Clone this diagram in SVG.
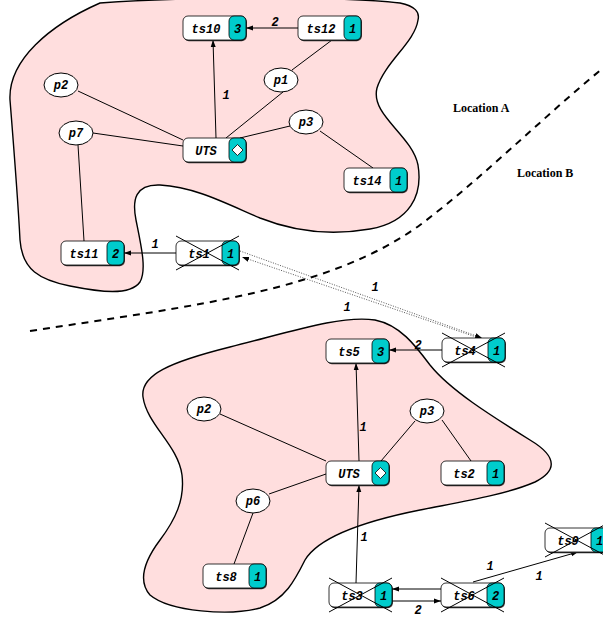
<svg xmlns="http://www.w3.org/2000/svg" xmlns:xlink="http://www.w3.org/1999/xlink" width="603" height="621" viewBox="0 0 603 621">
  <style>
    .blob { fill: #ffdede; stroke: #000; stroke-width: 1.4; }
    .divider { fill: none; stroke: #000; stroke-width: 2; stroke-dasharray: 7 6; }
    .edge { fill: none; stroke: #000; stroke-width: 1; }
    .arrow { fill: none; stroke: #000; stroke-width: 1; marker-end: url(#arr); }
    .dotted { fill: none; stroke: #444; stroke-width: 0.9; stroke-dasharray: 1 1.5; marker-end: url(#arr); }
    .proc { fill: #fff; stroke: #000; stroke-width: 1; }
    .cross line { stroke: #000; stroke-width: 1; }
    .mono { font-family: "Liberation Mono", "DejaVu Sans Mono", monospace; font-style: italic; font-weight: bold; font-size: 12px; text-anchor: middle; fill: #000; }
    .loc { font-family: "Liberation Serif", "Times New Roman", serif; font-weight: bold; font-size: 12px; fill: #000; }
  </style>
  <defs>
    <marker id="arr" markerWidth="7" markerHeight="6" refX="7" refY="3" orient="auto" markerUnits="userSpaceOnUse">
      <path d="M0,0.5 L7,3 L0,5.5 z" fill="#000"/>
    </marker>
    <!-- time-slot box: white body with cyan tab on the right -->
    <g id="box">
      <rect x="0.8" y="1.2" width="63" height="24" rx="5" fill="#333"/>
      <rect width="63" height="24" rx="5" fill="#fff" stroke="#000" stroke-width="0.8"/>
      <rect x="46" width="17" height="24" rx="5" fill="#00cccc" stroke="#000" stroke-width="0.8"/>
    </g>
    <g id="cross" class="cross">
      <line x1="0" y1="-5" x2="63" y2="29"/>
      <line x1="0" y1="29" x2="63" y2="-5"/>
    </g>
    <path id="diamond" d="M54.5,6.5 L60,12 L54.5,17.5 L49,12 Z" fill="#fff" stroke="#000" stroke-width="0.8"/>
  </defs>

  <!-- regions -->
  <path class="blob" d="M 100 3 C 180 -3, 340 -4, 400 3 C 415 6, 420 12, 418 20 C 415 42, 385 62, 377 88 C 370 115, 412 135, 418 165 C 423 195, 410 222, 370 229 C 330 236, 295 232, 260 218 C 225 203, 195 187, 160 185 C 135 184, 132 200, 136 220 C 141 245, 147 270, 140 282 C 130 296, 100 292, 70 286 C 40 280, 22 270, 20 240 C 18 200, 14 150, 10 100 C 8 60, 50 25, 100 3 Z"/>
  <path class="blob" d="M 143 397 C 140 375, 170 362, 230 347 C 290 332, 340 315, 375 320 C 400 325, 415 345, 430 365 C 450 390, 490 415, 530 440 C 560 458, 555 472, 535 482 C 505 495, 460 502, 420 510 C 370 520, 320 535, 305 560 C 295 580, 285 600, 260 608 C 230 616, 170 612, 150 595 C 137 580, 145 560, 160 540 C 175 520, 185 500, 182 475 C 178 445, 147 425, 143 397 Z"/>

  <!-- location boundary -->
  <path class="divider" d="M 30 331 C 200 305, 330 290, 420 225 C 480 180, 540 120, 603 68"/>
  <text class="loc" x="453" y="112">Location A</text>
  <text class="loc" x="517" y="177">Location B</text>

  <!-- connectors -->
  <g id="connectors">
    <path class="edge" d="M78,91 L183,140"/>
    <path class="edge" d="M93,133 L183,146"/>
    <path class="edge" d="M78,145 L84,241"/>
    <path class="edge" d="M283,92 L226,138"/>
    <path class="edge" d="M292,70 L332,40"/>
    <path class="edge" d="M290,126 L240,138"/>
    <path class="edge" d="M320,131 L373,168"/>
    <path class="edge" d="M220,414 L326,461"/>
    <path class="edge" d="M415,421 L381,461"/>
    <path class="edge" d="M442,420 L471,461"/>
    <path class="edge" d="M269,494 L326,474"/>
    <path class="edge" d="M253,513 L234,564"/>

    <path class="arrow" d="M298,28 L246,28"/>
    <path class="arrow" d="M216,138 L213,40"/>
    <path class="arrow" d="M176,253 L124,253"/>
    <path class="arrow" d="M442,350 L389,350"/>
    <path class="arrow" d="M359,461 L356,363"/>
    <path class="arrow" d="M356,583 L359,485"/>
    <path class="arrow" d="M441,589 L392,589"/>
    <path class="arrow" d="M392,601 L441,601"/>
    <path class="arrow" d="M473,582 L578,552"/>
    <path class="dotted" d="M240,251 L482,338"/>
    <path class="dotted" d="M476,337 L242,257"/>

    <text class="mono" x="275" y="26">2</text>
    <text class="mono" x="226" y="99">1</text>
    <text class="mono" x="155" y="248">1</text>
    <text class="mono" x="375" y="291">1</text>
    <text class="mono" x="347" y="311">1</text>
    <text class="mono" x="418" y="349">2</text>
    <text class="mono" x="363" y="431">1</text>
    <text class="mono" x="364" y="541">1</text>
    <text class="mono" x="418" y="614">2</text>
    <text class="mono" x="490" y="570">1</text>
    <text class="mono" x="539" y="580">1</text>
  </g>

  <!-- processes -->
  <g id="p2a"><ellipse class="proc" cx="61" cy="85" rx="17" ry="12"/><text class="mono" x="61" y="89">p2</text></g>
  <g id="p7a"><ellipse class="proc" cx="76" cy="133" rx="17" ry="12"/><text class="mono" x="76" y="137">p7</text></g>
  <g id="p1a"><ellipse class="proc" cx="281" cy="80" rx="17" ry="12"/><text class="mono" x="281" y="84">p1</text></g>
  <g id="p3a"><ellipse class="proc" cx="306" cy="122" rx="17" ry="12"/><text class="mono" x="306" y="126">p3</text></g>
  <g id="p2b"><ellipse class="proc" cx="204" cy="409" rx="17" ry="12"/><text class="mono" x="204" y="413">p2</text></g>
  <g id="p3b"><ellipse class="proc" cx="427" cy="411" rx="17" ry="12"/><text class="mono" x="427" y="415">p3</text></g>
  <g id="p6b"><ellipse class="proc" cx="253" cy="501" rx="17" ry="12"/><text class="mono" x="253" y="505">p6</text></g>

  <!-- time slots -->
  <g id="ts10" transform="translate(183,16)"><use xlink:href="#box"/><text class="mono" x="23" y="16.5">ts10</text><text class="mono" x="54.5" y="16.5">3</text></g>
  <g id="ts12" transform="translate(298,16)"><use xlink:href="#box"/><text class="mono" x="23" y="16.5">ts12</text><text class="mono" x="54.5" y="16.5">1</text></g>
  <g id="utsA" transform="translate(183,138)"><use xlink:href="#box"/><text class="mono" x="23" y="16.5">UTS</text><use xlink:href="#diamond"/></g>
  <g id="ts14" transform="translate(344,168)"><use xlink:href="#box"/><text class="mono" x="23" y="16.5">ts14</text><text class="mono" x="54.5" y="16.5">1</text></g>
  <g id="ts11" transform="translate(61,241)"><use xlink:href="#box"/><text class="mono" x="23" y="16.5">ts11</text><text class="mono" x="54.5" y="16.5">2</text></g>
  <g id="ts1" transform="translate(176,241)"><use xlink:href="#box"/><text class="mono" x="23" y="16.5">ts1</text><text class="mono" x="54.5" y="16.5">1</text><use xlink:href="#cross"/></g>

  <g id="ts5" transform="translate(326,339)"><use xlink:href="#box"/><text class="mono" x="23" y="16.5">ts5</text><text class="mono" x="54.5" y="16.5">3</text></g>
  <g id="ts4" transform="translate(442,338)"><use xlink:href="#box"/><text class="mono" x="23" y="16.5">ts4</text><text class="mono" x="54.5" y="16.5">1</text><use xlink:href="#cross"/></g>
  <g id="utsB" transform="translate(326,461)"><use xlink:href="#box"/><text class="mono" x="23" y="16.5">UTS</text><use xlink:href="#diamond"/></g>
  <g id="ts2" transform="translate(441,461)"><use xlink:href="#box"/><text class="mono" x="23" y="16.5">ts2</text><text class="mono" x="54.5" y="16.5">1</text></g>
  <g id="ts8" transform="translate(203,564)"><use xlink:href="#box"/><text class="mono" x="23" y="16.5">ts8</text><text class="mono" x="54.5" y="16.5">1</text></g>
  <g id="ts3" transform="translate(329,583)"><use xlink:href="#box"/><text class="mono" x="23" y="16.5">ts3</text><text class="mono" x="54.5" y="16.5">1</text><use xlink:href="#cross"/></g>
  <g id="ts6" transform="translate(441,583)"><use xlink:href="#box"/><text class="mono" x="23" y="16.5">ts6</text><text class="mono" x="54.5" y="16.5">2</text><use xlink:href="#cross"/></g>
  <g id="ts9" transform="translate(545,528)"><use xlink:href="#box"/><text class="mono" x="23" y="16.5">ts9</text><text class="mono" x="54.5" y="16.5">1</text><use xlink:href="#cross"/></g>
</svg>
